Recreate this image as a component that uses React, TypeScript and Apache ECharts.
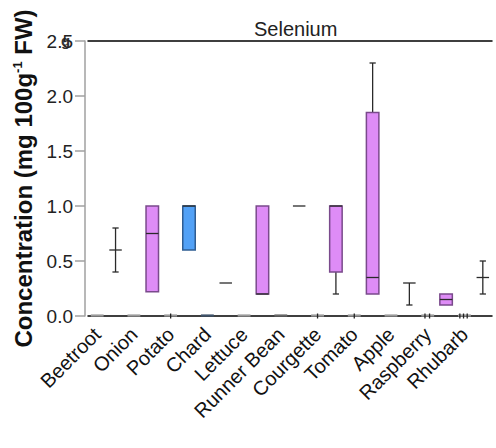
import React, { useEffect, useRef } from "react";
import * as echarts from "echarts";

const categories = ["Beetroot", "Onion", "Potato", "Chard", "Lettuce", "Runner Bean", "Courgette", "Tomato", "Apple", "Raspberry", "Rhubarb"];

// measured group (drawn half a category to the right of each label)
const measuredLow = [0.4, 0.22, 0.6, 0.3, 0.2, 1.0, 0.2, 0.2, 0.1, 0.1, 0.2];
const measuredQ1 = [0.6, 0.22, 0.6, 0.3, 0.2, 1.0, 0.4, 0.2, 0.3, 0.1, 0.35];
const measuredMedian = [0.6, 0.75, 1.0, 0.3, 0.2, 1.0, 1.0, 0.35, 0.3, 0.15, 0.35];
const measuredQ3 = [0.6, 1.0, 1.0, 0.3, 1.0, 1.0, 1.0, 1.85, 0.3, 0.2, 0.35];
const measuredHigh = [0.8, 1.0, 1.0, 0.3, 1.0, 1.0, 1.0, 2.3, 0.3, 0.2, 0.5];
const measuredTone = ["none", "violet", "blue", "none", "violet", "none", "violet", "violet", "none", "violet", "none"];

// baseline group (all zero, centred on each label)
const baselineValues = [0, 0, 0, 0, 0, 0, 0, 0, 0, 0, 0];
const baselineTone = ["grey", "grey", "grey", "slate", "grey", "dark", "grey", "grey", "grey", "grey", "grey"];
const baselinePointOffsets = [[], [], [0], [], [], [], [0], [0], [], [-0.15, 0.1], [-0.25, -0.05, 0.15]];

const yTicks = [0, 0.5, 1.0, 1.5, 2.0, 2.5];

const FONT = "'Liberation Sans', Arial, Helvetica, sans-serif";

const TONES: Record<string, { fill: string; stroke: string }> = {
  violet: { fill: "#de8cf6", stroke: "#7a4a8c" },
  blue: { fill: "#52a1f6", stroke: "#2f5d92" },
  none: { fill: "none", stroke: "#2a2a2a" },
};
const BASE_TONES: Record<string, string> = {
  grey: "#9a9a9a",
  slate: "#3e526a",
  dark: "#666666",
};

export default function App() {
  const ref = useRef<HTMLDivElement>(null);

  useEffect(() => {
    if (!ref.current) return;
    const chart = echarts.init(ref.current, null, { renderer: "svg" });

    const slots: string[] = [];
    categories.forEach((c) => {
      slots.push(c);
      slots.push("");
    });

    const measuredData = categories.map((_, i) => [
      2 * i + 1,
      measuredLow[i],
      measuredQ1[i],
      measuredMedian[i],
      measuredQ3[i],
      measuredHigh[i],
    ]);
    const baselineData = categories.map((_, i) => [2 * i, baselineValues[i]]);

    const renderMeasured = (params: any, api: any) => {
      const i = params.dataIndex;
      const slot = api.value(0);
      const low = api.value(1);
      const q1 = api.value(2);
      const med = api.value(3);
      const q3 = api.value(4);
      const high = api.value(5);
      const w = api.size([1, 0])[0] * 0.68;
      const capW = w * 0.5;
      const tone = TONES[measuredTone[i]];
      const pLow = api.coord([slot, low]);
      const pQ1 = api.coord([slot, q1]);
      const pMed = api.coord([slot, med]);
      const pQ3 = api.coord([slot, q3]);
      const pHigh = api.coord([slot, high]);
      const cx = pMed[0];
      const children: any[] = [];
      const whisk = { stroke: "#2a2a2a", lineWidth: 1.3 };
      if (high > q3) {
        children.push({ type: "line", shape: { x1: cx, y1: pQ3[1], x2: cx, y2: pHigh[1] }, style: whisk });
        children.push({ type: "line", shape: { x1: cx - capW / 2, y1: pHigh[1], x2: cx + capW / 2, y2: pHigh[1] }, style: whisk });
      }
      if (low < q1) {
        children.push({ type: "line", shape: { x1: cx, y1: pQ1[1], x2: cx, y2: pLow[1] }, style: whisk });
        children.push({ type: "line", shape: { x1: cx - capW / 2, y1: pLow[1], x2: cx + capW / 2, y2: pLow[1] }, style: whisk });
      }
      if (q3 > q1) {
        children.push({
          type: "rect",
          shape: { x: cx - w / 2, y: pQ3[1], width: w, height: pQ1[1] - pQ3[1] },
          style: { fill: tone.fill, stroke: tone.stroke, lineWidth: 1.5 },
        });
      }
      children.push({
        type: "line",
        shape: { x1: cx - w / 2, y1: pMed[1], x2: cx + w / 2, y2: pMed[1] },
        style: { stroke: "#2a2a2a", lineWidth: 1.3 },
      });
      return { type: "group", children };
    };

    const renderBaseline = (params: any, api: any) => {
      const i = params.dataIndex;
      const slot = api.value(0);
      const p = api.coord([slot, api.value(1)]);
      const unit = api.size([1, 0])[0];
      const w = unit * 0.7;
      const children: any[] = [
        {
          type: "line",
          shape: { x1: p[0] - w / 2, y1: p[1] - 0.5, x2: p[0] + w / 2, y2: p[1] - 0.5 },
          style: { stroke: BASE_TONES[baselineTone[i]], lineWidth: 2.2 },
        },
      ];
      baselinePointOffsets[i].forEach((o) => {
        const x = p[0] + o * unit;
        children.push({
          type: "line",
          shape: { x1: x, y1: p[1] - 2.5, x2: x, y2: p[1] + 2.5 },
          style: { stroke: "#222", lineWidth: 1.3 },
        });
      });
      return { type: "group", children };
    };

    chart.setOption({
      animation: false,
      backgroundColor: "#ffffff",
      title: {
        text: "Selenium",
        left: 249,
        top: 14,
        textStyle: { fontFamily: FONT, fontSize: 20, fontWeight: "normal", color: "#222" },
      },
      grid: { left: 88, right: 4, top: 41, bottom: 132, containLabel: false },
      xAxis: [
        {
          type: "category",
          data: slots,
          boundaryGap: true,
          axisLine: { show: true, lineStyle: { color: "#000", width: 1.5 } },
          axisTick: { show: false },
          axisLabel: {
            interval: 0,
            rotate: 45,
            margin: 15,
            fontFamily: FONT,
            fontSize: 20,
            color: "#111",
          },
          splitLine: { show: false },
        },
        {
          type: "category",
          data: slots,
          position: "top",
          axisLine: { show: true, lineStyle: { color: "#000", width: 1.5 } },
          axisTick: { show: false },
          axisLabel: { show: false },
          splitLine: { show: false },
        },
      ],
      yAxis: {
        type: "value",
        min: yTicks[0],
        max: yTicks[yTicks.length - 1],
        interval: 0.5,
        offset: 3,
        axisLine: { show: true, lineStyle: { color: "#a0a0a0", width: 1.5 } },
        axisTick: { show: true, length: 10, lineStyle: { color: "#a0a0a0", width: 1.5 } },
        splitLine: { show: false },
        axisLabel: {
          margin: 12,
          fontFamily: FONT,
          fontSize: 19,
          color: "#222",
          formatter: (v: number) => v.toFixed(1),
        },
        name: "Concentration (mg 100g{sup|-1} FW)",
        nameLocation: "middle",
        nameRotate: 90,
        nameGap: 47,
        nameTextStyle: {
          fontFamily: FONT,
          fontSize: 24,
          fontWeight: "bold",
          color: "#111",
          rich: {
            sup: { fontFamily: FONT, fontSize: 13, fontWeight: "bold", color: "#111", verticalAlign: "top", padding: [0, 0, 12, 0] },
          },
        },
      },
      graphic: [
        {
          type: "text",
          left: 61,
          top: 33,
          style: { text: "g", font: `bold 15px ${FONT}`, fill: "#333" },
        },
      ],
      series: [
        {
          type: "custom",
          name: "baseline",
          xAxisIndex: 0,
          renderItem: renderBaseline,
          data: baselineData,
          z: 3,
        },
        {
          type: "custom",
          name: "measured",
          xAxisIndex: 0,
          renderItem: renderMeasured,
          data: measuredData,
          z: 4,
        },
      ],
    });

    return () => chart.dispose();
  }, []);

  return <div ref={ref} style={{ position: "absolute", left: 0, top: 0, width: 496, height: 448 }} />;
}
